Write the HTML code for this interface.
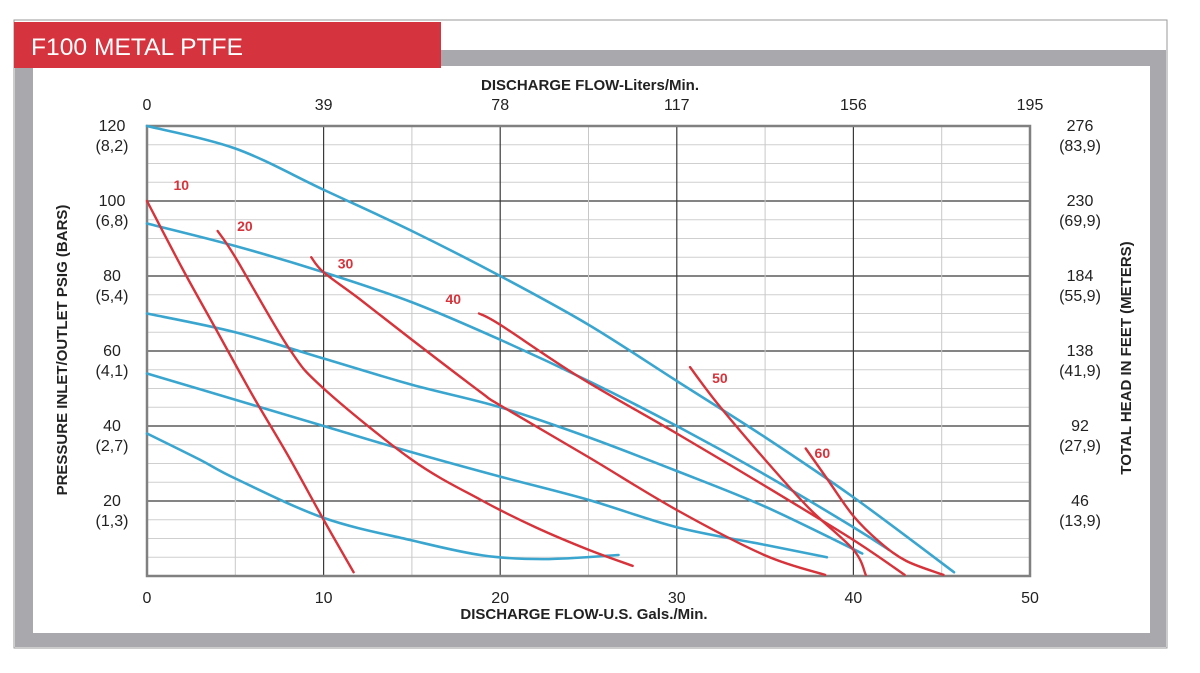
<!DOCTYPE html>
<html><head><meta charset="utf-8">
<style>
html,body{margin:0;padding:0;background:#fff;}
body{width:1200px;height:668px;position:relative;overflow:hidden;font-family:"Liberation Sans",sans-serif;}
</style></head>
<body>
<svg id="chart" width="1200" height="668" viewBox="0 0 1200 668" xmlns="http://www.w3.org/2000/svg" font-family="Liberation Sans, sans-serif">
  <rect x="14" y="20" width="1153" height="628" fill="#fff" stroke="#9a9a9a" stroke-width="1"/>
  <rect x="15" y="50" width="1151" height="597" fill="#a9a9ad"/>
  <rect x="33" y="66" width="1117" height="567" fill="#fff"/>
  <rect x="14" y="22" width="427" height="46" fill="#d5343f"/>
  <text x="31" y="55" font-size="24" fill="#fff" textLength="212" lengthAdjust="spacingAndGlyphs">F100 METAL PTFE</text>
  <g id="grid"></g>
  <g id="series"></g>
  <g id="labels"></g>
  <text x="590" y="90" font-size="15" font-weight="bold" text-anchor="middle" fill="#222">DISCHARGE FLOW-Liters/Min.</text>
  <text x="584" y="619" font-size="15" font-weight="bold" text-anchor="middle" fill="#222">DISCHARGE FLOW-U.S. Gals./Min.</text>
  <text transform="translate(67,350) rotate(-90)" font-size="15" font-weight="bold" text-anchor="middle" fill="#222">PRESSURE INLET/OUTLET PSIG (BARS)</text>
  <text transform="translate(1131,358) rotate(-90)" font-size="15" font-weight="bold" text-anchor="middle" fill="#222">TOTAL HEAD IN FEET (METERS)</text>
</svg>
<script>
const xTicks = [0,10,20,30,40,50];
const topTickLabels = ["0","39","78","117","156","195"];
const yTicks = [20,40,60,80,100,120];
const leftBarLabels = ["(1,3)","(2,7)","(4,1)","(5,4)","(6,8)","(8,2)"];
const rightFeetLabels = ["46","92","138","184","230","276"];
const rightMeterLabels = ["(13,9)","(27,9)","(41,9)","(55,9)","(69,9)","(83,9)"];

const blue120 = [[0,120],[5,114],[10,103],[15,92],[20,80],[25,67],[30,52],[35,37],[40,21],[45.7,1]];
const blue100 = [[0,94],[5,88],[10,81],[15,73],[20,63],[25,52],[30,40],[35,27],[40,13],[42,7]];
const blue80 = [[0,70],[5,65],[10,58],[15,51],[20,45],[25,37],[30,28],[35,18.5],[40.5,6]];
const blue60 = [[0,54],[5,47],[10,40],[15,33],[20,26.5],[25,20.3],[30,13],[35,8.3],[38.5,5]];
const blue40 = [[0,38],[3,31],[5,26],[10,15.5],[15,9.5],[19,5.5],[22.5,4.5],[26.7,5.6]];

const red10 = [[0,100],[2,82],[4,65],[6,48],[8,32],[10,15],[11.7,1]];
const red20 = [[4,92],[5,85],[8,61],[10,50],[15,31],[18.9,20.3],[22,13],[25,7],[27.5,2.7]];
const red30 = [[9.3,85],[10,81],[12,74],[15,63],[18.9,49],[20,45.5],[25,31.7],[30,17.6],[35,5.5],[38.4,0.3]];
const red40 = [[18.8,70],[20,67],[24.5,53],[30,38],[35,24],[40,9.6],[42.9,0.3]];
const red50 = [[30.75,55.7],[32.3,46],[35,31],[37.5,18],[40,7],[40.7,0.3]];
const red60 = [[37.3,34],[38.5,26],[40,16],[41.5,9],[43,4],[45.1,0.3]];

const scfmLabels = ["10","20","30","40","50","60"];
const scfmLabelPos = [[1.5,103],[5.1,92],[10.8,82],[16.9,72.5],[32,51.5],[37.8,31.5]];

const X0=147, X1=1030, Y0=576, Y1=126;
function xs(v){return X0+(v/50)*(X1-X0);}
function ys(v){return Y0-(v/120)*(Y0-Y1);}
const NS="http://www.w3.org/2000/svg";
function mk(tag,attrs,parent){const e=document.createElementNS(NS,tag);for(const k in attrs)e.setAttribute(k,attrs[k]);parent.appendChild(e);return e;}

const grid=document.getElementById('grid');
for(let p=5;p<120;p+=5){
  const major=p%20===0;
  const l=mk('line',{x1:X0,x2:X1,y1:ys(p),y2:ys(p),stroke:major?'#3a3a3a':'#cfcfcf','stroke-width':major?1.2:1},grid);
  
  
}
for(let g=5;g<50;g+=5){
  const major=g%10===0;
  const l=mk('line',{x1:xs(g),x2:xs(g),y1:Y1,y2:Y0,stroke:major?'#3a3a3a':'#c8c8c8','stroke-width':major?1.2:1},grid);
  
  
}
const border=mk('path',{d:`M${X0},${Y1} L${X1},${Y1} L${X1},${Y0} L${X0},${Y0} Z`,fill:'none',stroke:'#808080','stroke-width':2.5},grid);



const labels=document.getElementById('labels');
xTicks.forEach((t,i)=>{
  const b=mk('text',{x:xs(t),y:603,'font-size':16,'text-anchor':'middle',fill:'#222'},labels);
  b.textContent=String(t);
  
  
  const tp=mk('text',{x:xs(t),y:110,'font-size':16,'text-anchor':'middle',fill:'#222'},labels);
  tp.textContent=topTickLabels[i];
  
  
});
yTicks.forEach((t,i)=>{
  const y=ys(t);
  const a=mk('text',{x:112,y:y+5,'font-size':16,'text-anchor':'middle',fill:'#222'},labels);
  a.textContent=String(t);
  
  
  const b=mk('text',{x:112,y:y+25,'font-size':16,'text-anchor':'middle',fill:'#222'},labels);
  b.textContent=leftBarLabels[i];
  
  
  const c=mk('text',{x:1080,y:y+5,'font-size':16,'text-anchor':'middle',fill:'#222'},labels);
  c.textContent=rightFeetLabels[i];
  
  
  const d=mk('text',{x:1080,y:y+25,'font-size':16,'text-anchor':'middle',fill:'#222'},labels);
  d.textContent=rightMeterLabels[i];
  
  
});

const series=document.getElementById('series');
function pathD(pts){
  const p=pts.map(q=>[xs(q[0]),ys(q[1])]);
  let d=`M${p[0][0]},${p[0][1]}`;
  for(let i=0;i<p.length-1;i++){
    const p0=p[i-1]||p[i],p1=p[i],p2=p[i+1],p3=p[i+2]||p2;
    const c1x=p1[0]+(p2[0]-p0[0])/6,c1y=p1[1]+(p2[1]-p0[1])/6;
    const c2x=p2[0]-(p3[0]-p1[0])/6,c2y=p2[1]-(p3[1]-p1[1])/6;
    d+=` C${c1x},${c1y} ${c2x},${c2y} ${p2[0]},${p2[1]}`;
  }
  return d;
}
const blues=[['air-120psi-curve',blue120],['air-100psi-curve',blue100],['air-80psi-curve',blue80],['air-60psi-curve',blue60],['air-40psi-curve',blue40]];
const reds=[['scfm-10-curve',red10],['scfm-20-curve',red20],['scfm-30-curve',red30],['scfm-40-curve',red40],['scfm-50-curve',red50],['scfm-60-curve',red60]];
blues.forEach(([n,pts])=>{
  const e=mk('path',{d:pathD(pts),fill:'none',stroke:'#3aa6cf','stroke-width':2.6,'stroke-linecap':'round'},series);
  
  
});
reds.forEach(([n,pts])=>{
  const e=mk('path',{d:pathD(pts),fill:'none',stroke:'#d6333b','stroke-width':2.4,'stroke-linecap':'round'},series);
  
  
});
scfmLabels.forEach((s,i)=>{
  const t=mk('text',{x:xs(scfmLabelPos[i][0]),y:ys(scfmLabelPos[i][1]),'font-size':14,'font-weight':'bold',fill:'#d6333b'},series);
  t.textContent=s;
  
  
});
</script>
</body></html>
